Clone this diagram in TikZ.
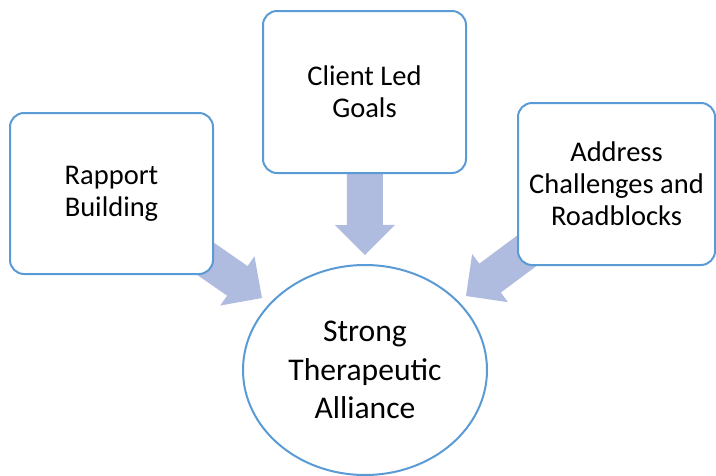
\documentclass[tikz,border=0pt]{standalone}
\usepackage{fontspec}
\setmainfont{Carlito}
\usetikzlibrary{calc,shapes.geometric}

\definecolor{edgeblue}{RGB}{91,155,213}
\definecolor{arrowfill}{RGB}{176,188,223}

\tikzset{
  boxnode/.style={draw=edgeblue, line width=2pt, fill=white, rounded corners=14pt,
    align=center, inner sep=0pt, font=\fontsize{28.5}{32}\selectfont},
  hubnode/.style={draw=edgeblue, line width=2pt, fill=white, ellipse,
    align=center, inner sep=0pt, minimum width=244pt, minimum height=210pt,
    font=\fontsize{31.6}{38.5}\selectfont},
}

% block arrow from the centre of #1 to the tip coordinate #2
\newcommand\blockarrow[2]{%
  \coordinate (ba-h) at ($(#2)!30pt!(#1)$);
  \fill[arrowfill] (#2) -- ($(ba-h)!30pt!90:(#2)$) -- ($(ba-h)!18pt!90:(#2)$)
    -- ($(#1)!18pt!90:(#2)$) -- ($(#1)!18pt!-90:(#2)$)
    -- ($(ba-h)!18pt!-90:(#2)$) -- ($(ba-h)!30pt!-90:(#2)$) -- cycle;
}

\begin{document}
\begin{tikzpicture}[x=1pt, y=-1pt]
  \useasboundingbox (0,0) rectangle (716,475);

  % centres of the three source boxes
  \coordinate (rb-c) at (111.5,193.5);
  \coordinate (cg-c) at (364.5,92);
  \coordinate (ac-c) at (616.5,184);

  % arrow tips
  \coordinate (tip-l) at (262,298);
  \coordinate (tip-t) at (365,255);
  \coordinate (tip-r) at (466,296);

  \blockarrow{rb-c}{tip-l}
  \blockarrow{cg-c}{tip-t}
  \blockarrow{ac-c}{tip-r}

  \node[boxnode, minimum width=203pt, minimum height=161pt] (rb) at (rb-c) {Rapport\\Building};
  \node[boxnode, minimum width=203pt, minimum height=162pt] (cg) at (cg-c) {Client Led\\Goals};
  \node[boxnode, minimum width=197pt, minimum height=162pt] (ac) at (ac-c) {Address\\Challenges and\\Roadblocks};

  \node[hubnode] (sta) at (365,370) {Strong\\Therapeutic\\Alliance};
\end{tikzpicture}
\end{document}
